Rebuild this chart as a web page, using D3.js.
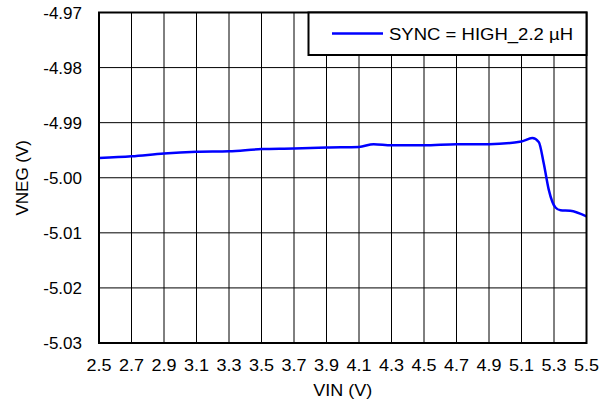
<!DOCTYPE html>
<html><head><meta charset="utf-8">
<script src="https://cdn.jsdelivr.net/npm/d3@7"></script>
<style>body{margin:0;background:#fff}svg{display:block}text{font-family:"Liberation Sans",Arial,sans-serif;font-size:17px;fill:#000}</style>
</head><body>
<script>
const vin = [2.5, 2.7, 2.9, 3.1, 3.3, 3.5, 3.7, 3.9, 4.1, 4.19, 4.3, 4.5, 4.7, 4.9, 5.1, 5.166, 5.206, 5.237, 5.268, 5.309, 5.34, 5.40, 5.5];
const vneg = [-4.9964, -4.9961, -4.9956, -4.9953, -4.9952, -4.9948, -4.9947, -4.9945, -4.9944, -4.9939, -4.9941, -4.9941, -4.9939, -4.9939, -4.9934, -4.9928, -4.9935, -4.9974, -5.0022, -5.0054, -5.0059, -5.0060, -5.0070];
const xTicks = [2.5, 2.7, 2.9, 3.1, 3.3, 3.5, 3.7, 3.9, 4.1, 4.3, 4.5, 4.7, 4.9, 5.1, 5.3, 5.5];
const yTicks = [-4.97, -4.98, -4.99, -5.00, -5.01, -5.02, -5.03];
const seriesName = "SYNC = HIGH_2.2 µH";
const xTitle = "VIN (V)";
const yTitle = "VNEG (V)";

const W = 609, H = 406;
const L = 99, R = 586.5, T = 12.5, B = 343;
const svg = d3.select("body").append("svg").attr("width", W).attr("height", H);
const x = d3.scaleLinear().domain([2.5, 5.5]).range([L, R]);
const y = d3.scaleLinear().domain([-4.97, -5.03]).range([T, B]);

// grid
svg.append("g").selectAll("line").data(xTicks).join("line")
  .attr("x1", d => x(d)).attr("x2", d => x(d)).attr("y1", T).attr("y2", B)
  .attr("stroke", "#000").attr("stroke-width", 1);
svg.append("g").selectAll("line").data(yTicks).join("line")
  .attr("x1", L).attr("x2", R).attr("y1", d => y(d)).attr("y2", d => y(d))
  .attr("stroke", "#000").attr("stroke-width", 1);

// tick labels
svg.append("g").selectAll("text").data(yTicks).join("text")
  .attr("transform", d => `translate(82,${y(d) + 6})`).attr("text-anchor", "end")
  .text(d => d.toFixed(2));
svg.append("g").selectAll("text").data(xTicks).join("text")
  .attr("transform", d => `translate(${x(d)},371) scale(1.06,1)`).attr("text-anchor", "middle")
  .text(d => d.toFixed(1));

// curve
const pts = vin.map((v, i) => [v, vneg[i]]);
svg.append("path").datum(pts)
  .attr("d", d3.line().x(d => x(d[0])).y(d => y(d[1])).curve(d3.curveMonotoneX))
  .attr("fill", "none").attr("stroke", "#0000ff").attr("stroke-width", 2.5);

// frame
svg.append("rect").attr("x", L).attr("y", T).attr("width", R - L).attr("height", B - T)
  .attr("fill", "none").attr("stroke", "#000").attr("stroke-width", 2);

// legend
const lg = svg.append("g");
lg.append("rect").attr("x", 308.5).attr("y", T).attr("width", R - 308.5).attr("height", 42.5)
  .attr("fill", "#fff").attr("stroke", "#000").attr("stroke-width", 2);
lg.append("line").attr("x1", 332).attr("x2", 383).attr("y1", 33.5).attr("y2", 33.5)
  .attr("stroke", "#0000ff").attr("stroke-width", 2.5);
lg.append("text").attr("transform", "translate(389,39.5) scale(1.09,1)").text(seriesName);

// titles
svg.append("text").attr("transform", `translate(${(L + R) / 2},396) scale(1.06,1)`).attr("text-anchor", "middle").text(xTitle);
svg.append("text").attr("transform", `translate(28,${(T + B) / 2}) rotate(-90)`)
  .attr("text-anchor", "middle").text(yTitle);
</script>
</body></html>
